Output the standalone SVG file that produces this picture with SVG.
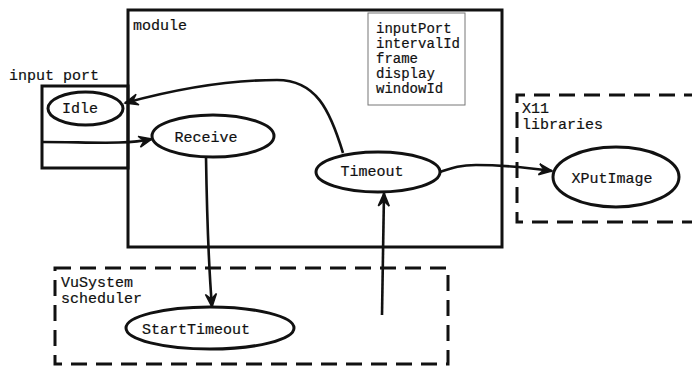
<svg xmlns="http://www.w3.org/2000/svg" width="692" height="366" viewBox="0 0 692 366">
  <style>
    text { font-family: "Liberation Mono", "DejaVu Sans Mono", monospace; font-size: 15px; fill: #111; stroke: #111; stroke-width: 0.2; }
    .attr { font-size: 14px; }
    .mid { text-anchor: middle; }
    .box { fill: none; stroke: #111; stroke-width: 3; }
    .dash { fill: none; stroke: #111; stroke-width: 3; stroke-dasharray: 16 9; }
    .node { fill: #fff; stroke: #111; stroke-width: 3; }
    .edge { fill: none; stroke: #111; stroke-width: 2.6; marker-end: url(#head); }
  </style>
  <defs>
    <marker id="head" viewBox="-14 -7 16 14" refX="0" refY="0" markerWidth="16" markerHeight="14" orient="auto" markerUnits="userSpaceOnUse">
      <path d="M0,0 L-13,-5.5 L-8,0 L-13,5.5 Z" fill="#111" stroke="#111" stroke-width="1.5" stroke-linejoin="miter"/>
    </marker>
  </defs>
  <rect width="692" height="366" fill="#fff"/>

  <!-- containers -->
  <g id="module">
    <rect class="box" x="128" y="10" width="374" height="237"/>
    <text x="133" y="30">module</text>
    <rect x="368" y="13" width="97" height="92" fill="none" stroke="#777" stroke-width="1"/>
    <text class="attr" x="376" y="33">inputPort</text>
    <text class="attr" x="376" y="48">intervalId</text>
    <text class="attr" x="376" y="63">frame</text>
    <text class="attr" x="376" y="78">display</text>
    <text class="attr" x="376" y="93">windowId</text>
  </g>
  <g id="input-port">
    <rect class="box" x="42" y="86" width="86" height="82"/>
    <text x="9" y="80">input port</text>
  </g>
  <g id="x11-libraries">
    <path class="dash" d="M700,95 H517 V222 H700"/>
    <text x="522" y="113">X11</text>
    <text x="522" y="129">libraries</text>
  </g>
  <g id="vusystem-scheduler">
    <rect class="dash" x="55" y="268" width="393" height="96"/>
    <text x="61" y="287">VuSystem</text>
    <text x="61" y="303">scheduler</text>
  </g>

  <!-- connectors -->
  <g id="connectors">
    <path class="edge" d="M343,153 C330,110 316,80 277,80 C220,80 165,92 125,103"/>
    <path class="edge" d="M42,142 C90,142 125,145 152,139"/>
    <path class="edge" d="M440,172 C452,168 460,165 476,165 C505,165 530,168 552,171"/>
    <path class="edge" d="M206,157 C207,220 209,270 212,307"/>
    <path class="edge" d="M382,315 L384,193"/>
  </g>

  <!-- nodes -->
  <g id="idle">
    <ellipse class="node" cx="85.5" cy="108.5" rx="37.5" ry="16.5"/>
    <text class="mid" x="80" y="113">Idle</text>
  </g>
  <g id="receive">
    <ellipse class="node" cx="213" cy="136" rx="61" ry="21"/>
    <text class="mid" x="206" y="142">Receive</text>
  </g>
  <g id="timeout">
    <ellipse class="node" cx="378" cy="172" rx="62" ry="20"/>
    <text class="mid" x="372" y="176">Timeout</text>
  </g>
  <g id="xputimage">
    <ellipse class="node" cx="616" cy="177" rx="63" ry="30"/>
    <text class="mid" x="612" y="183">XPutImage</text>
  </g>
  <g id="starttimeout">
    <ellipse class="node" cx="210" cy="328" rx="84" ry="21"/>
    <text class="mid" x="196" y="334">StartTimeout</text>
  </g>
</svg>
